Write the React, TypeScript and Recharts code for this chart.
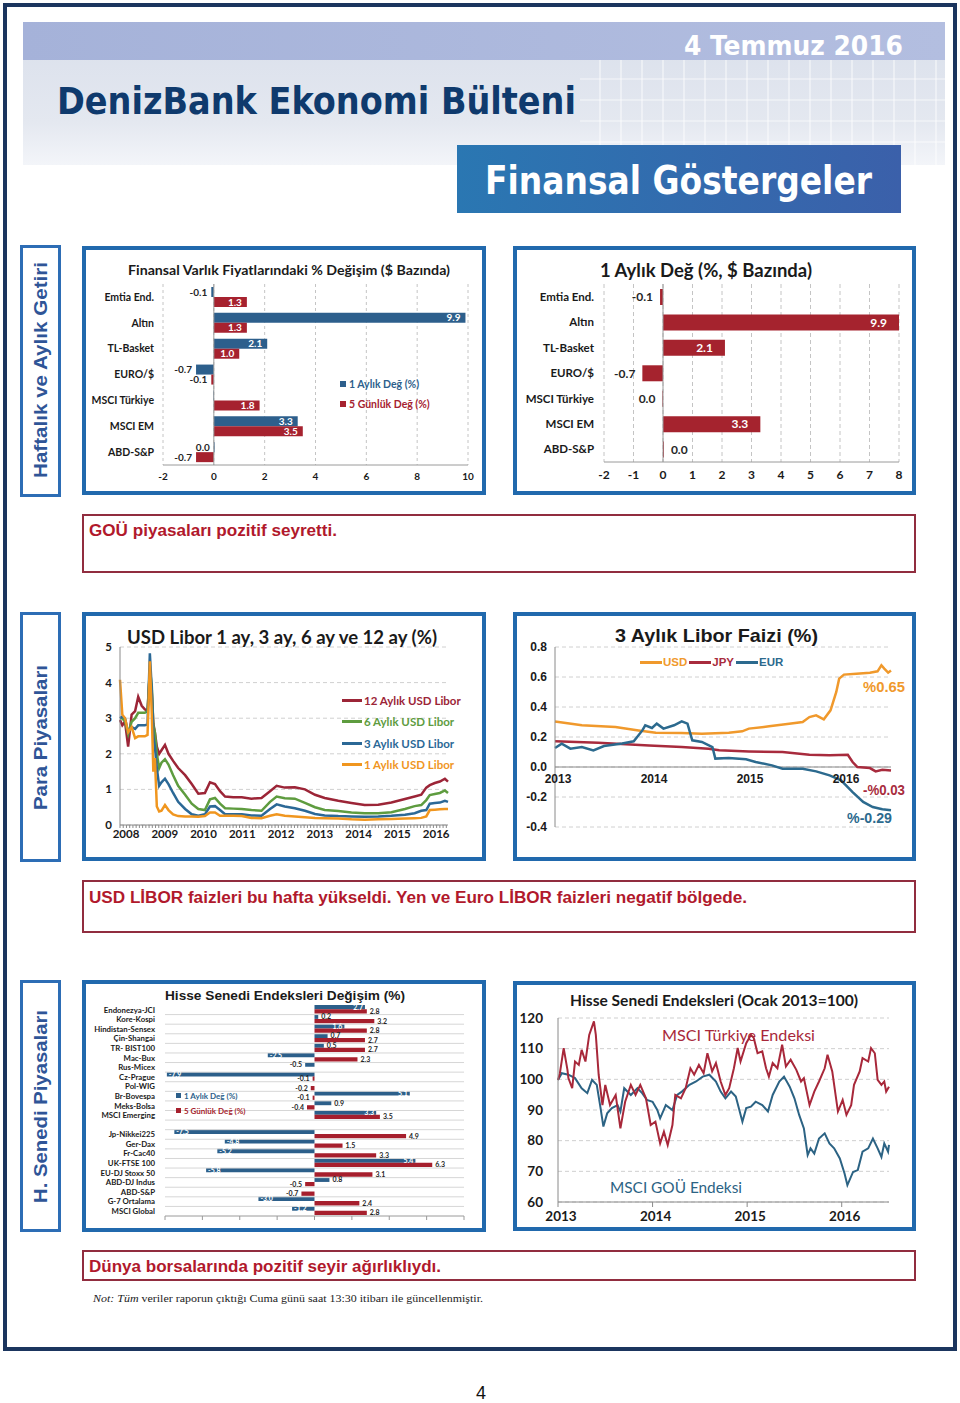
import React from 'react';
import {
  BarChart, Bar, LineChart, Line, XAxis, YAxis, CartesianGrid,
  ReferenceLine, ReferenceDot, LabelList, Legend,
} from 'recharts';

const CAL = 'Lato, "Open Sans", "Noto Sans", sans-serif';
const ARIAL = '"Liberation Sans", Arial, sans-serif';
const TAHOMA = '"DejaVu Sans Condensed", "DejaVu Sans", sans-serif';
const SERIF = '"Liberation Serif", "Times New Roman", serif';

// ---------- Chart 1 & 2: asset price changes ----------
const assetNames = ['Emtia End.', 'Altın', 'TL-Basket', 'EURO/$', 'MSCI Türkiye', 'MSCI EM', 'ABD-S&P'];
const assetMonthly = [-0.1, 9.9, 2.1, -0.7, -0.02, 3.3, 0.03];
const assetWeekly = [1.3, 1.3, 1.0, -0.1, 1.8, 3.5, -0.7];
const assetSeries = ['1 Aylık Değ (%)', '5 Günlük Değ (%)'];

// ---------- Chart 3: USD Libor ----------
const liborDates = [2008.00, 2008.06, 2008.13, 2008.21, 2008.30, 2008.39, 2008.47, 2008.56, 2008.64, 2008.71,
  2008.77, 2008.82, 2008.86, 2008.90, 2008.95, 2009.01, 2009.07, 2009.16, 2009.25, 2009.37,
  2009.50, 2009.68, 2009.85, 2010.02, 2010.19, 2010.32, 2010.45, 2010.58, 2010.71, 2010.92,
  2011.14, 2011.39, 2011.65, 2011.87, 2012.04, 2012.25, 2012.51, 2012.77, 2013.03, 2013.28,
  2013.63, 2013.97, 2014.31, 2014.66, 2015.00, 2015.35, 2015.60, 2015.77, 2015.90, 2015.99,
  2016.12, 2016.25, 2016.38, 2016.46];
const libor12 = [2.95, 2.8, 2.9, 2.2, 3.1, 3.2, 3.6, 3.35, 3.25, 3.2,
  4.3, 3.7, 2.85, 2.6, 2.2, 2.0, 2.1, 2.25, 2.0, 1.8,
  1.6, 1.4, 1.15, 0.88, 0.9, 1.2, 1.15, 0.95, 0.8, 0.78,
  0.78, 0.74, 0.76, 0.95, 1.1, 1.05, 1.06, 1.0, 0.85, 0.76,
  0.68, 0.62, 0.56, 0.57, 0.63, 0.73, 0.8, 0.85, 1.05, 1.12,
  1.18, 1.22, 1.3, 1.22];
const libor6 = [3.0, 3.0, 2.9, 2.55, 2.9, 3.0, 3.15, 3.15, 3.15, 3.2,
  4.4, 3.9, 2.8, 2.6, 2.0, 1.6, 1.75, 1.85, 1.7, 1.4,
  1.1, 0.85, 0.6, 0.45, 0.42, 0.72, 0.76, 0.6, 0.47, 0.46,
  0.45, 0.42, 0.4, 0.65, 0.8, 0.75, 0.74, 0.62, 0.5, 0.42,
  0.39, 0.35, 0.33, 0.33, 0.36, 0.45, 0.53, 0.56, 0.7, 0.84,
  0.87, 0.9, 0.97, 0.9];
const libor3 = [3.0, 3.05, 3.0, 2.6, 2.75, 2.7, 2.8, 2.8, 2.8, 2.82,
  4.82, 3.8, 2.5, 2.2, 1.6, 1.1, 1.2, 1.3, 1.15, 0.9,
  0.65, 0.45, 0.3, 0.26, 0.3, 0.52, 0.53, 0.42, 0.3, 0.3,
  0.3, 0.27, 0.26, 0.45, 0.58, 0.52, 0.47, 0.4, 0.31, 0.27,
  0.25, 0.24, 0.23, 0.24, 0.26, 0.29, 0.33, 0.4, 0.42, 0.6,
  0.62, 0.63, 0.68, 0.65];
const libor1 = [4.08, 3.1, 3.0, 2.6, 2.75, 2.44, 2.49, 2.49, 2.49, 2.53,
  4.6, 3.1, 1.5, 1.88, 0.52, 0.38, 0.4, 0.56, 0.42, 0.3,
  0.25, 0.24, 0.24, 0.23, 0.25, 0.35, 0.35, 0.26, 0.26, 0.26,
  0.25, 0.2, 0.19, 0.26, 0.3, 0.26, 0.24, 0.22, 0.2, 0.19,
  0.18, 0.16, 0.15, 0.16, 0.17, 0.18, 0.19, 0.2, 0.24, 0.42,
  0.43, 0.44, 0.45, 0.45];
const liborSeries = ['12 Aylık USD Libor', '6 Aylık USD Libor', '3 Aylık USD Libor', '1 Aylık USD Libor'];
const liborYears = [2008, 2009, 2010, 2011, 2012, 2013, 2014, 2015, 2016];

// ---------- Chart 4: 3M Libor USD/JPY/EUR ----------
const usdDates = [2013.00, 2013.28, 2013.63, 2013.87, 2014.05, 2014.32, 2014.53, 2014.81, 2014.95, 2015.02,
  2015.23, 2015.44, 2015.58, 2015.65, 2015.72, 2015.80, 2015.87, 2015.93, 2015.96, 2016.01,
  2016.14, 2016.28, 2016.36, 2016.40, 2016.43, 2016.47, 2016.50];
const usdVals = [0.304, 0.278, 0.267, 0.244, 0.229, 0.227, 0.222, 0.229, 0.238, 0.256,
  0.271, 0.289, 0.300, 0.333, 0.344, 0.318, 0.378, 0.500, 0.589, 0.616,
  0.622, 0.629, 0.638, 0.678, 0.656, 0.629, 0.644];
const jpyDates = [2013.00, 2013.45, 2013.98, 2014.32, 2014.60, 2014.71, 2015.02, 2015.37, 2015.65, 2015.86,
  2016.05, 2016.10, 2016.15, 2016.28, 2016.34, 2016.41, 2016.50];
const jpyVals = [0.171, 0.162, 0.144, 0.133, 0.122, 0.111, 0.104, 0.100, 0.082, 0.078,
  0.082, 0.033, 0.000, -0.007, -0.029, -0.018, -0.024];
const eurDates = [2013.00, 2013.07, 2013.16, 2013.28, 2013.40, 2013.51, 2013.70, 2013.82, 2013.91, 2013.94,
  2014.01, 2014.06, 2014.13, 2014.24, 2014.32, 2014.38, 2014.43, 2014.53, 2014.64, 2014.67,
  2014.81, 2014.99, 2015.09, 2015.26, 2015.37, 2015.58, 2015.72, 2015.86, 2015.98, 2016.10,
  2016.21, 2016.31, 2016.41, 2016.50];
const eurVals = [0.127, 0.156, 0.122, 0.133, 0.111, 0.140, 0.156, 0.171, 0.244, 0.278,
  0.260, 0.289, 0.256, 0.278, 0.304, 0.289, 0.178, 0.167, 0.133, 0.056,
  0.060, 0.051, 0.033, 0.011, -0.011, -0.011, -0.029, -0.056, -0.089, -0.167,
  -0.233, -0.267, -0.282, -0.289];
const rateSeries = ['USD', 'JPY', 'EUR'];
const rateYears = [2013, 2014, 2015, 2016];

// ---------- Chart 5: equity index changes ----------
const idxNames = ['Endonezya-JCI', 'Kore-Kospi', 'Hindistan-Sensex', 'Çin-Shangai', 'TR- BIST100', 'Mac-Bux',
  'Rus-Micex', 'Cz-Prague', 'Pol-WIG', 'Br-Bovespa', 'Meks-Bolsa', 'MSCI Emerging', '',
  'Jp-Nikkei225', 'Ger-Dax', 'Fr-Cac40', 'UK-FTSE 100', 'EU-DJ Stoxx 50', 'ABD-DJ Indus', 'ABD-S&P',
  'G-7 Ortalama', 'MSCI Global'];
const idxMonthly = [2.7, 0.2, 1.6, 0.7, 0.5, -2.5, -0.5, -7.9, 0.0, 5.1, 0.9, 3.3, null,
  -7.5, -4.8, -5.2, 5.4, -5.8, 0.8, 0.0, -3.0, -1.2];
const idxWeekly = [2.8, 3.2, 2.8, 2.7, 2.7, 2.3, 0.0, -0.1, -0.2, -0.1, -0.4, 3.5, null,
  4.9, 1.5, 3.3, 6.3, 3.1, -0.5, -0.7, 2.4, 2.8];

// ---------- Chart 6: equity indices (Jan 2013 = 100) ----------
const trDates = [2013.00, 2013.02, 2013.06, 2013.10, 2013.11, 2013.15, 2013.18, 2013.22, 2013.25, 2013.29,
  2013.33, 2013.38, 2013.40, 2013.43, 2013.47, 2013.50, 2013.55, 2013.61, 2013.66, 2013.71,
  2013.77, 2013.82, 2013.87, 2013.93, 2013.98, 2014.03, 2014.08, 2014.12, 2014.16, 2014.21,
  2014.24, 2014.30, 2014.35, 2014.40, 2014.44, 2014.49, 2014.54, 2014.58, 2014.63, 2014.67,
  2014.72, 2014.77, 2014.81, 2014.86, 2014.90, 2014.93, 2014.99, 2015.04, 2015.07, 2015.11,
  2015.16, 2015.20, 2015.23, 2015.27, 2015.32, 2015.37, 2015.41, 2015.46, 2015.52, 2015.57,
  2015.60, 2015.66, 2015.71, 2015.76, 2015.82, 2015.85, 2015.90, 2015.96, 2016.01, 2016.05,
  2016.10, 2016.13, 2016.19, 2016.22, 2016.28, 2016.31, 2016.35, 2016.38, 2016.42, 2016.45,
  2016.47, 2016.50];
const trVals = [99.8, 102.0, 110.2, 103.1, 100.4, 97.1, 105.8, 104.7, 109.6, 105.8,
  114.5, 118.9, 114.5, 101.5, 91.6, 98.2, 91.6, 94.9, 84.0, 92.7,
  98.2, 94.9, 98.2, 93.8, 85.1, 86.2, 79.1, 82.9, 78.6, 85.1,
  94.9, 93.8, 97.1, 103.6, 101.5, 104.7, 102.0, 108.5, 102.6, 105.3,
  99.3, 94.9, 97.1, 103.6, 110.2, 105.8, 111.8, 114.5, 113.5, 108.5,
  109.1, 103.6, 100.9, 105.3, 103.6, 111.3, 104.2, 106.4, 103.1, 99.3,
  100.4, 91.6, 96.0, 99.3, 103.6, 108.0, 102.6, 89.5, 93.3, 88.4,
  91.6, 98.2, 102.6, 106.9, 105.8, 110.2, 108.5, 99.8, 98.2, 99.3,
  96.0, 97.6];
const emDates = [2013.00, 2013.04, 2013.11, 2013.18, 2013.25, 2013.31, 2013.36, 2013.41, 2013.45, 2013.48,
  2013.52, 2013.57, 2013.63, 2013.66, 2013.70, 2013.77, 2013.84, 2013.89, 2013.94, 2014.00,
  2014.05, 2014.08, 2014.14, 2014.21, 2014.26, 2014.31, 2014.39, 2014.46, 2014.53, 2014.60,
  2014.67, 2014.72, 2014.77, 2014.83, 2014.88, 2014.95, 2014.99, 2015.04, 2015.09, 2015.16,
  2015.22, 2015.27, 2015.34, 2015.39, 2015.45, 2015.50, 2015.55, 2015.60, 2015.64, 2015.67,
  2015.71, 2015.76, 2015.82, 2015.87, 2015.92, 2015.98, 2016.03, 2016.06, 2016.12, 2016.17,
  2016.22, 2016.28, 2016.33, 2016.38, 2016.42, 2016.45, 2016.49, 2016.50];
const emVals = [99.8, 102.0, 101.5, 100.4, 97.1, 95.5, 99.8, 98.2, 90.6, 84.6,
  88.9, 90.6, 91.6, 89.5, 97.1, 94.9, 97.1, 95.5, 93.3, 92.7,
  90.0, 87.3, 91.6, 90.0, 94.9, 96.0, 98.2, 99.3, 100.9, 101.5,
  99.3, 96.0, 93.8, 96.0, 94.4, 86.2, 90.6, 91.1, 92.7, 91.6,
  89.5, 94.9, 99.3, 100.9, 97.6, 93.8, 88.4, 84.0, 75.3, 77.5,
  75.8, 80.7, 82.4, 79.1, 77.5, 74.2, 69.3, 65.5, 69.8, 70.4,
  76.4, 77.5, 80.7, 77.5, 74.7, 79.1, 76.4, 78.6];

// ---------- derived tables ----------
const assetData = assetNames.map((name, i) => ({ name, m: assetMonthly[i], w: assetWeekly[i] }));
const liborData = liborDates.map((t, i) => ({ t, l12: libor12[i], l6: libor6[i], l3: libor3[i], l1: libor1[i] }));
const usdData = usdDates.map((t, i) => ({ t, v: usdVals[i] }));
const jpyData = jpyDates.map((t, i) => ({ t, v: jpyVals[i] }));
const eurData = eurDates.map((t, i) => ({ t, v: eurVals[i] }));
const idxData = idxNames.map((name, i) => ({ name, m: idxMonthly[i], w: idxWeekly[i] }));
const trData = trDates.map((t, i) => ({ t, v: trVals[i] }));
const emData = emDates.map((t, i) => ({ t, v: emVals[i] }));
const liborMonthTicks = Array.from({ length: 102 }, (_, k) => liborYears[0] + k / 12);

const BLUE = '#2d5f8c';
const RED = '#a6222f';

type LabOpt = { insideMin: number; fs: number; inPad: number; outPad: number; zeroLeft?: boolean; maxR?: number; hide?: number[]; fam?: string };
function makeBarLabel(o: LabOpt) {
  return (p: any) => {
    if (p.value === null || p.value === undefined) return null;
    const v = Number(p.value);
    if (Number.isNaN(v)) return null;
    if (o.hide && o.hide.indexOf(p.index) >= 0) return null;
    const x = Number(p.x), y = Number(p.y), w = Number(p.width) || 0, h = Number(p.height) || 0;
    const l = Math.min(x, x + w);
    let r = Math.max(x, x + w);
    if (o.maxR !== undefined) r = Math.min(r, o.maxR);
    const cy = y + h / 2;
    const txt = (Math.abs(v) < 0.05 ? 0 : v).toFixed(1);
    let tx: number; let anchor: 'start' | 'end'; let fill: string;
    if (Math.abs(v) >= o.insideMin) {
      fill = '#ffffff';
      if (v > 0) { tx = r - o.inPad; anchor = 'end'; } else { tx = l + o.inPad; anchor = 'start'; }
    } else {
      fill = '#262626';
      const left = v < 0 || (o.zeroLeft && Math.abs(v) < 0.05);
      if (left) { tx = l - o.outPad; anchor = 'end'; } else { tx = r + o.outPad; anchor = 'start'; }
    }
    return (
      <text x={tx} y={cy} dy="0.36em" textAnchor={anchor} fill={fill} fontSize={o.fs} fontWeight={700} fontFamily={o.fam ?? CAL}>
        {txt}
      </text>
    );
  };
}

const catTick = (fs: number, family: string = CAL) => (p: any) => (
  <text x={p.x} y={p.y} dy="0.36em" textAnchor="end" fontSize={fs} fontWeight={700} fill="#1a1a1a" fontFamily={family}>
    {p.payload && p.payload.value}
  </text>
);

const ordered = (payload: any[] | undefined, order: string[]) =>
  [...(payload || [])].sort((a, b) => order.indexOf(String(a.value)) - order.indexOf(String(b.value)));

const squareLegend = (fs: number, rowH: number, sq: number, order: string[]) => (p: any) => (
  <div style={{ fontFamily: CAL, fontSize: fs, fontWeight: 700 }}>
    {ordered(p.payload, order).map((e: any) => (
      <div key={e.value} style={{ display: 'flex', alignItems: 'center', height: rowH, color: e.color, whiteSpace: 'nowrap' }}>
        <span style={{ display: 'inline-block', width: sq, height: sq, background: e.color, marginRight: 3 }} />
        {e.value}
      </div>
    ))}
  </div>
);

const lineLegendV = (p: any) => (
  <div style={{ fontFamily: CAL, fontSize: 11.5, fontWeight: 700 }}>
    {ordered(p.payload, liborSeries).map((e: any) => (
      <div key={e.value} style={{ display: 'flex', alignItems: 'center', height: 21.3, color: e.color, whiteSpace: 'nowrap' }}>
        <span style={{ display: 'inline-block', width: 20, height: 3, background: e.color, marginRight: 2 }} />
        {e.value}
      </div>
    ))}
  </div>
);

const lineLegendH = (p: any) => (
  <div style={{ fontFamily: ARIAL, fontSize: 11.5, fontWeight: 700, display: 'flex', alignItems: 'center', whiteSpace: 'nowrap' }}>
    {ordered(p.payload, rateSeries).map((e: any) => (
      <span key={e.value} style={{ display: 'inline-flex', alignItems: 'center', color: e.color, marginRight: 2 }}>
        <span style={{ display: 'inline-block', width: 22, height: 3, background: e.color, marginRight: 1 }} />
        {e.value}
      </span>
    ))}
  </div>
);

function AssetChart() {
  return (
    <BarChart width={396} height={241} data={assetData} layout="vertical"
      margin={{ top: 34, right: 14, bottom: 6, left: 0 }} barGap={0} barSize={10}>
      <CartesianGrid horizontal={false} stroke="#c4c4c4" strokeDasharray="3 3" />
      <XAxis type="number" domain={[-2, 10]} ticks={[-2, 0, 2, 4, 6, 8, 10]} height={20}
        axisLine={{ stroke: '#9a9a9a' }} tickLine={false}
        tick={{ fontSize: 10, fontWeight: 700, fill: '#1a1a1a', fontFamily: CAL }} />
      <YAxis type="category" dataKey="name" width={77} axisLine={false} tickLine={false} tickMargin={3} interval={0}
        tick={catTick(10.5)} />
      <ReferenceLine x={0} stroke="#9a9a9a" />
      <Bar dataKey="m" name={assetSeries[0]} fill={BLUE} isAnimationActive={false}>
        <LabelList dataKey="m" content={makeBarLabel({ insideMin: 0.95, fs: 10, inPad: 5, outPad: 4, zeroLeft: true, hide: [4] })} />
      </Bar>
      <Bar dataKey="w" name={assetSeries[1]} fill={RED} isAnimationActive={false}>
        <LabelList dataKey="w" content={makeBarLabel({ insideMin: 0.95, fs: 10, inPad: 5, outPad: 4, zeroLeft: true })} />
      </Bar>
      <Legend layout="vertical" align="center" verticalAlign="middle" content={squareLegend(10.5, 20, 6, assetSeries)}
        wrapperStyle={{ left: 254, top: 124, width: 140 }} />
    </BarChart>
  );
}

function MonthlyChart() {
  return (
    <BarChart width={396} height={241} data={assetData} layout="vertical"
      margin={{ top: 34, right: 14, bottom: 7, left: 0 }} barSize={16}>
      <CartesianGrid horizontal={false} stroke="#c4c4c4" strokeDasharray="4 3" />
      <XAxis type="number" domain={[-2, 8]} allowDataOverflow ticks={[-2, -1, 0, 1, 2, 3, 4, 5, 6, 7, 8]} height={22}
        axisLine={{ stroke: '#9a9a9a' }} tickLine={false}
        tick={{ fontSize: 12, fontWeight: 700, fill: '#1a1a1a', fontFamily: CAL }} />
      <YAxis type="category" dataKey="name" width={87} axisLine={false} tickLine={false} tickMargin={4} interval={0}
        tick={catTick(11.5)} />
      <ReferenceLine x={0} stroke="#9a9a9a" />
      <Bar dataKey="m" name={assetSeries[0]} fill="#a5232e" isAnimationActive={false}>
        <LabelList dataKey="m" content={makeBarLabel({ insideMin: 1, fs: 12, inPad: 12, outPad: 7, maxR: 382 })} />
      </Bar>
    </BarChart>
  );
}

function LiborChart() {
  return (
    <LineChart width={396} height={241} data={liborData} margin={{ top: 31, right: 34, bottom: 6, left: 0 }}>
      <CartesianGrid vertical={false} stroke="#d0d0d0" strokeDasharray="4 3" />
      <XAxis type="number" dataKey="t" domain={[liborYears[0], 2016.46]} ticks={liborMonthTicks} interval={0}
        tickFormatter={(v: number) => (Math.abs(v - Math.round(v)) < 1e-6 ? String(Math.round(v)) : '')}
        height={26} tickSize={3} axisLine={{ stroke: '#8a8a8a' }} tickLine={{ stroke: '#8a8a8a' }}
        tick={{ fontSize: 11.5, fontWeight: 700, fill: '#1a1a1a', fontFamily: CAL, dx: 6 }} />
      <YAxis type="number" domain={[0, 5]} ticks={[0, 1, 2, 3, 4, 5]} width={34}
        axisLine={{ stroke: '#8a8a8a' }} tickLine={false}
        tick={{ fontSize: 11.5, fontWeight: 700, fill: '#1a1a1a', fontFamily: CAL }} />
      <Line type="linear" dataKey="l12" name={liborSeries[0]} stroke="#9c2537" strokeWidth={2.5} dot={false} isAnimationActive={false} />
      <Line type="linear" dataKey="l6" name={liborSeries[1]} stroke="#5e9c3f" strokeWidth={2.5} dot={false} isAnimationActive={false} />
      <Line type="linear" dataKey="l3" name={liborSeries[2]} stroke="#2b6896" strokeWidth={2.5} dot={false} isAnimationActive={false} />
      <Line type="linear" dataKey="l1" name={liborSeries[3]} stroke="#f0961f" strokeWidth={2.5} dot={false} isAnimationActive={false} />
      <Legend layout="vertical" align="center" verticalAlign="middle" content={lineLegendV}
        wrapperStyle={{ left: 256, top: 74, width: 135 }} />
    </LineChart>
  );
}

function RateChart() {
  return (
    <LineChart width={396} height={241} margin={{ top: 31, right: 22, bottom: 30, left: 0 }}>
      <CartesianGrid vertical={false} stroke="#d0d0d0" strokeDasharray="4 3" />
      <XAxis type="number" dataKey="t" domain={[rateYears[0], 2016.5]} hide />
      <YAxis type="number" domain={[-0.4, 0.8]} ticks={[-0.4, -0.2, 0, 0.2, 0.4, 0.6, 0.8]} width={38}
        tickFormatter={(v: number) => v.toFixed(1)} axisLine={{ stroke: '#8a8a8a' }} tickLine={false}
        tick={{ fontSize: 12, fontWeight: 700, fill: '#1a1a1a', fontFamily: ARIAL }} />
      <ReferenceLine y={0} stroke="#8a8a8a" />
      {rateYears.map((yr) => (
        <ReferenceDot key={yr} x={yr} y={0} r={0} fill="none" stroke="none"
          label={{ value: String(yr), position: 'bottom', offset: 7, fontSize: 12, fontWeight: 700, fill: '#1a1a1a', fontFamily: ARIAL, dx: 3 }} />
      ))}
      <Line data={usdData} type="linear" dataKey="v" name={rateSeries[0]} stroke="#f0992c" strokeWidth={2.5} dot={false} isAnimationActive={false} />
      <Line data={jpyData} type="linear" dataKey="v" name={rateSeries[1]} stroke="#a82b3d" strokeWidth={2.5} dot={false} isAnimationActive={false} />
      <Line data={eurData} type="linear" dataKey="v" name={rateSeries[2]} stroke="#2c6a8e" strokeWidth={2.5} dot={false} isAnimationActive={false} />
      <Legend layout="vertical" align="center" verticalAlign="middle" content={lineLegendH}
        wrapperStyle={{ left: 123, top: 40, width: 180 }} />
    </LineChart>
  );
}

function IndexChangeChart() {
  return (
    <BarChart width={396} height={244} data={idxData} layout="vertical"
      margin={{ top: 21, right: 18, bottom: 4, left: 0 }} barGap={0} barSize={4.3}>
      {idxNames.map((n, i) => (
        <ReferenceLine key={'g' + i} y={n} position="start" stroke="#d6d6d6" />
      ))}
      <ReferenceLine y={idxNames[idxNames.length - 1]} position="end" stroke="#d6d6d6" />
      <XAxis type="number" domain={[-8, 8]} ticks={[-8, -6, -4, -2, 0, 2, 4, 6, 8]} height={8}
        tickFormatter={() => ''} tickSize={4} axisLine={{ stroke: '#9a9a9a' }} tickLine={{ stroke: '#9a9a9a' }} />
      <YAxis type="category" dataKey="name" width={79} axisLine={false} tickLine={false} tickMargin={4} interval={0}
        tick={catTick(7.8)} />
      <Bar dataKey="m" name="1 Aylık Değ (%)" fill="#2c5f8a" isAnimationActive={false}>
        <LabelList dataKey="m" content={makeBarLabel({ insideMin: 1, fs: 7, inPad: 2, outPad: 3 })} />
      </Bar>
      <Bar dataKey="w" name="5 Günlük Değ (%)" fill="#a61f2d" isAnimationActive={false}>
        <LabelList dataKey="w" content={makeBarLabel({ insideMin: 99, fs: 7, inPad: 2, outPad: 3 })} />
      </Bar>
      <Legend layout="vertical" align="center" verticalAlign="middle" content={squareLegend(8, 15, 5, assetSeries)}
        wrapperStyle={{ left: 90, top: 104, width: 110 }} />
    </BarChart>
  );
}

function IndexLevelChart() {
  return (
    <LineChart width={396} height={242} margin={{ top: 33, right: 24, bottom: 3, left: 0 }}>
      <CartesianGrid vertical={false} stroke="#cfcfcf" strokeDasharray="4 3" />
      <XAxis type="number" dataKey="t" domain={[rateYears[0], 2016.5]} ticks={rateYears} height={22}
        tickSize={5} tickMargin={4} axisLine={{ stroke: '#8a8a8a' }} tickLine={{ stroke: '#8a8a8a' }}
        tick={{ fontSize: 13.5, fontWeight: 700, fill: '#1a1a1a', fontFamily: CAL, dx: 3 }} />
      <YAxis type="number" domain={[60, 120]} ticks={[60, 70, 80, 90, 100, 110, 120]} width={41}
        axisLine={{ stroke: '#8a8a8a' }} tickLine={false} tickMargin={9}
        tick={{ fontSize: 13.5, fontWeight: 700, fill: '#1a1a1a', fontFamily: CAL }} />
      <Line data={emData} type="linear" dataKey="v" name="MSCI GOÜ Endeksi" stroke="#2c6384" strokeWidth={2} dot={false} isAnimationActive={false} />
      <Line data={trData} type="linear" dataKey="v" name="MSCI Türkiye Endeksi" stroke="#a8283a" strokeWidth={2} dot={false} isAnimationActive={false} />
    </LineChart>
  );
}

type TP = { x: number; y: number; w?: number; size: number; fill: string; weight?: number; family?: string; anchor?: 'start' | 'middle' | 'end'; rotate?: number; children: React.ReactNode };
function T({ x, y, w, size, fill, weight = 700, family = ARIAL, anchor = 'start', rotate, children }: TP) {
  return (
    <text x={x} y={y} fontSize={size} fill={fill} fontWeight={weight} fontFamily={family} textAnchor={anchor}
      dominantBaseline="central" textLength={w} lengthAdjust={w ? 'spacingAndGlyphs' : undefined}
      transform={rotate ? `rotate(${rotate} ${x} ${y})` : undefined}>
      {children}
    </text>
  );
}

const gridXs = Array.from({ length: 17 }, (_, i) => 600 + i * 21);
const gridYs = [79, 100, 121, 142];

function Background() {
  const box = '#2169ad';
  const tab = '#2d6db5';
  const red = '#912d3f';
  return (
    <svg width={960} height={1403} style={{ position: 'absolute', left: 0, top: 0 }}>
      <defs>
        <linearGradient id="hdrLow" x1="0" y1="0" x2="0" y2="1">
          <stop offset="0" stopColor="#d9dfeb" />
          <stop offset="0.7" stopColor="#e4e8f0" />
          <stop offset="1" stopColor="#f3f5f9" />
        </linearGradient>
        <linearGradient id="hdrTop" x1="0" y1="0" x2="1" y2="0">
          <stop offset="0" stopColor="#a5b2d9" />
          <stop offset="1" stopColor="#b3bee0" />
        </linearGradient>
        <linearGradient id="blueBox" x1="0" y1="0" x2="1" y2="0">
          <stop offset="0" stopColor="#2a77b2" />
          <stop offset="1" stopColor="#3b60aa" />
        </linearGradient>
      </defs>
      <rect x={0} y={0} width={960} height={1403} fill="#ffffff" />
      <rect x={5} y={5} width={950} height={1344} fill="none" stroke="#1b355e" strokeWidth={4} />
      <rect x={23} y={22} width={922} height={143} fill="url(#hdrLow)" />
      <rect x={23} y={22} width={922} height={38} fill="url(#hdrTop)" />
      {gridXs.map((gx) => (
        <line key={'vx' + gx} x1={gx} y1={60} x2={gx} y2={165} stroke="#ffffff" strokeOpacity={0.7} strokeWidth={1.2} />
      ))}
      {gridYs.map((gy) => (
        <line key={'hy' + gy} x1={580} y1={gy} x2={945} y2={gy} stroke="#ffffff" strokeOpacity={0.7} strokeWidth={1.2} />
      ))}
      <rect x={457} y={145} width={444} height={68} fill="url(#blueBox)" />
      <rect x={21.5} y={246.5} width={38} height={249} fill="#fff" stroke={tab} strokeWidth={3} />
      <rect x={21.5} y={613.5} width={38} height={247} fill="#fff" stroke={tab} strokeWidth={3} />
      <rect x={21.5} y={981.5} width={38} height={249} fill="#fff" stroke={tab} strokeWidth={3} />
      <rect x={84} y={248} width={400} height={245} fill="#fff" stroke={box} strokeWidth={4} />
      <rect x={515} y={248} width={399} height={245} fill="#fff" stroke={box} strokeWidth={4} />
      <rect x={84} y={614} width={400} height={245} fill="#fff" stroke={box} strokeWidth={4} />
      <rect x={515} y={614} width={399} height={245} fill="#fff" stroke={box} strokeWidth={4} />
      <rect x={84} y={982} width={400} height={248} fill="#fff" stroke={box} strokeWidth={4} />
      <rect x={515} y={983} width={399} height={246} fill="#fff" stroke={box} strokeWidth={4} />
      <rect x={83} y={515} width={832} height={57} fill="#fff" stroke={red} strokeWidth={2} />
      <rect x={83} y={881} width={832} height={51} fill="#fff" stroke={red} strokeWidth={2} />
      <rect x={83} y={1251} width={832} height={29} fill="#fff" stroke={red} strokeWidth={2} />
    </svg>
  );
}

function Overlay() {
  const tabC = '#2f5597';
  const redT = '#b1192c';
  return (
    <svg width={960} height={1403} style={{ position: 'absolute', left: 0, top: 0, pointerEvents: 'none' }}>
      <T x={903} y={46} w={219} size={26} fill="#ffffff" family={TAHOMA} anchor="end">4 Temmuz 2016</T>
      <T x={57} y={101} w={519} size={37} fill="#0f3a6d" family={TAHOMA}>DenizBank Ekonomi Bülteni</T>
      <T x={485} y={180} w={387} size={39} fill="#ffffff" family={TAHOMA}>Finansal Göstergeler</T>
      <T x={41} y={370} w={216} size={18} fill={tabC} anchor="middle" rotate={-90}>Haftalık ve Aylık Getiri</T>
      <T x={41} y={737.5} w={145} size={18} fill={tabC} anchor="middle" rotate={-90}>Para Piyasaları</T>
      <T x={41} y={1106.5} w={193} size={18} fill={tabC} anchor="middle" rotate={-90}>H. Senedi Piyasaları</T>
      <T x={289} y={269} w={322} size={14} fill="#1a1a1a" family={CAL} anchor="middle">Finansal  Varlık  Fiyatlarındaki  % Değişim ($ Bazında)</T>
      <T x={706} y={270} w={212} size={18} fill="#1a1a1a" family={CAL} anchor="middle">1 Aylık Değ (%, $ Bazında)</T>
      <T x={282} y={636.5} w={310} size={18} fill="#1a1a1a" family={CAL} anchor="middle">USD Libor 1 ay, 3 ay, 6 ay ve 12 ay (%)</T>
      <T x={716.5} y={635.5} w={203} size={19} fill="#1a1a1a" anchor="middle">3 Aylık Libor Faizi (%)</T>
      <T x={285} y={995} w={240} size={13.5} fill="#1a1a1a" anchor="middle">Hisse Senedi Endeksleri Değişim (%)</T>
      <T x={714} y={1000} w={288} size={15.5} fill="#1a1a1a" family={CAL} anchor="middle">Hisse Senedi Endeksleri (Ocak 2013=100)</T>
      <T x={884} y={686} w={42} size={15} fill="#f0992c" anchor="middle">%0.65</T>
      <T x={884} y={789} w={42} size={15} fill="#a82b3d" anchor="middle">-%0.03</T>
      <T x={869.5} y={817} w={45} size={15} fill="#2c6a8e" anchor="middle">%-0.29</T>
      <T x={738.5} y={1034} w={153} size={16} weight={400} fill="#a8283a" family={CAL} anchor="middle">MSCI Türkiye Endeksi</T>
      <T x={676} y={1186.5} w={132} size={16} weight={400} fill="#2c6384" family={CAL} anchor="middle">MSCI GOÜ Endeksi</T>
      <T x={89} y={530} w={248} size={16} fill={redT}>GOÜ piyasaları pozitif seyretti.</T>
      <T x={89} y={897} w={658} size={16} fill={redT}>USD LİBOR faizleri bu hafta yükseldi. Yen ve Euro LİBOR faizleri negatif bölgede.</T>
      <T x={89} y={1266} w={352} size={16} fill={redT}>Dünya borsalarında pozitif seyir ağırlıklıydı.</T>
      <text x={93} y={1298} fontSize={11} fill="#222" fontFamily={SERIF} dominantBaseline="central" textLength={390} lengthAdjust="spacingAndGlyphs">
        <tspan fontStyle="italic">Not: Tüm</tspan> veriler raporun çıktığı Cuma günü saat 13:30 itibarı ile güncellenmiştir.
      </text>
      <text x={481} y={1393} fontSize={18} fill="#111" fontFamily={ARIAL} textAnchor="middle" dominantBaseline="central">4</text>
    </svg>
  );
}

const at = (left: number, top: number): React.CSSProperties => ({ position: 'absolute', left, top });

export default function App() {
  return (
    <div style={{ position: 'absolute', left: 0, top: 0, width: 960, height: 1403, background: '#fff', overflow: 'hidden' }}>
      <Background />
      <div style={at(86, 250)}><AssetChart /></div>
      <div style={at(517, 250)}><MonthlyChart /></div>
      <div style={at(86, 616)}><LiborChart /></div>
      <div style={at(517, 616)}><RateChart /></div>
      <div style={at(86, 984)}><IndexChangeChart /></div>
      <div style={at(517, 985)}><IndexLevelChart /></div>
      <Overlay />
    </div>
  );
}
